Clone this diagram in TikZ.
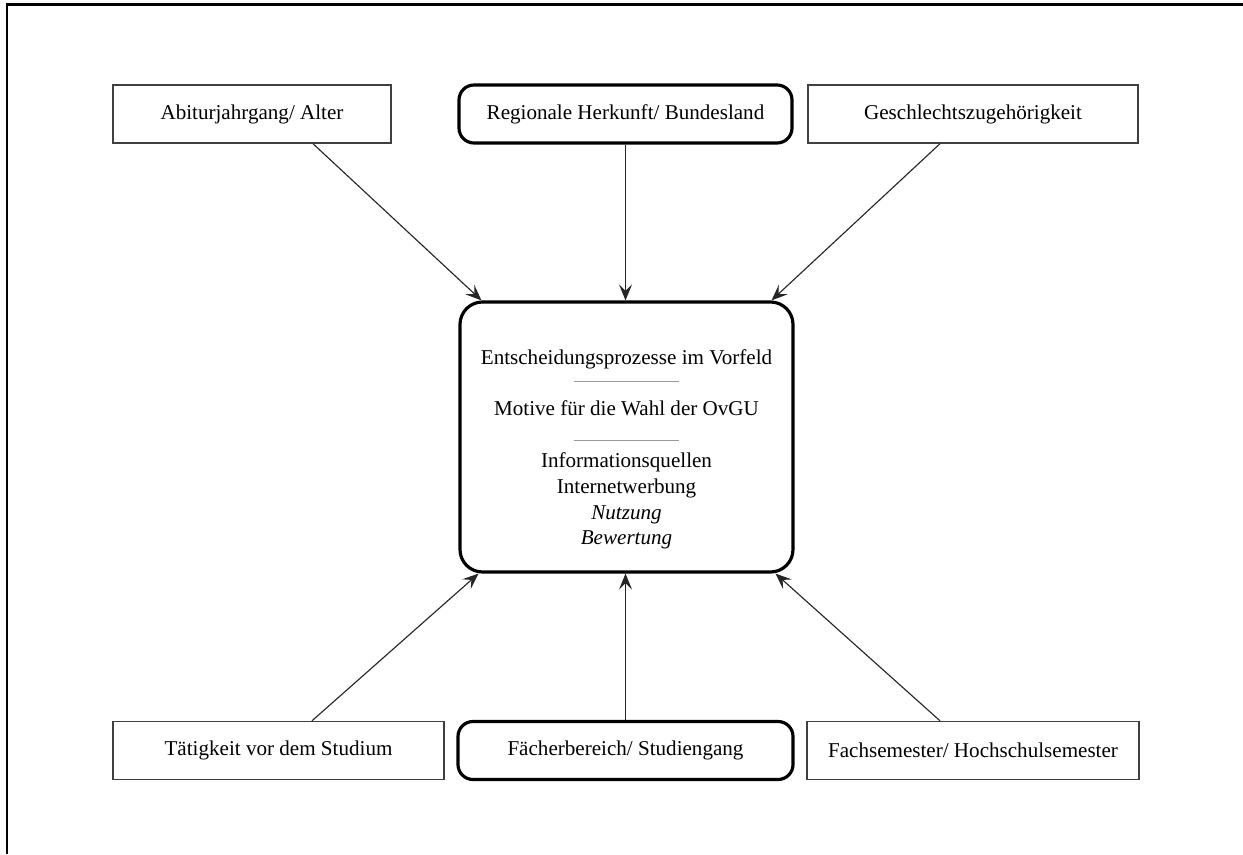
\documentclass[tikz,border=0pt]{standalone}
\usepackage{fontspec}
\setmainfont{Liberation Serif}
\usetikzlibrary{arrows.meta, positioning, calc}

\begin{document}
\begin{tikzpicture}[every node/.style={font=\fontsize{12}{14.7}\selectfont},
  factor/.style={draw=black!75, line width=0.8pt, minimum height=1.16cm, inner sep=0pt},
  keyfactor/.style={draw=black, line width=1.8pt, rounded corners=0.3cm, minimum height=1.16cm, inner sep=0pt},
  hub/.style={draw=black, line width=1.8pt, rounded corners=0.45cm, minimum width=6.66cm, minimum height=5.4cm},
  link/.style={-{Stealth[length=3.2mm, width=2.6mm, inset=1.3mm]}, black!85, line width=0.65pt}]
\useasboundingbox (0,0) rectangle (24.86,17.08);
% frame
\draw[line width=1.6pt] (0.14,0) -- (0.14,16.99) -- (24.86,16.99);
% upper factors
\node[factor, minimum width=5.56cm] (abitur) at (5.04,14.8) {Abiturjahrgang/ Alter};
\node[keyfactor, minimum width=6.66cm] (herkunft) at (12.51,14.8) {Regionale Herkunft/ Bundesland};
\node[factor, minimum width=6.6cm] (geschlecht) at (19.46,14.8) {Geschlechtszugehörigkeit};
% central topics
\node[hub] (ctr) at (12.53,8.34) {};
\node[anchor=north, align=center, inner sep=0pt] (inhalt) at ([yshift=-0.97cm]ctr.north) {
  Entscheidungsprozesse im Vorfeld\\
  \raisebox{4.5pt}{\textcolor{black!40}{\rule{2.1cm}{0.6pt}}}\\
  Motive für die Wahl der OvGU\\
  \raisebox{0.5pt}{\textcolor{black!40}{\rule{2.1cm}{0.6pt}}}\\
  Informationsquellen\\
  Internetwerbung\\
  \textit{Nutzung}\\
  \textit{Bewertung}
};
% lower factors
\node[factor, minimum width=6.62cm] (taetigkeit) at (5.57,2.07) {Tätigkeit vor dem Studium};
\node[keyfactor, minimum width=6.7cm] (faecher) at (12.51,2.07) {Fächerbereich/ Studiengang};
\node[factor, minimum width=6.64cm] (semester) at (19.46,2.07) {Fachsemester/ Hochschulsemester};
% arrows into the centre
\draw[link] ([xshift=1.22cm]abitur.south) -- ([xshift=-2.9cm]ctr.north);
\draw[link] (herkunft.south) -- (herkunft.south |- ctr.north);
\draw[link] ([xshift=-0.66cm]geschlecht.south) -- ([xshift=2.9cm]ctr.north);
\draw[link] ([xshift=0.67cm]taetigkeit.north) -- ([xshift=-2.96cm]ctr.south);
\draw[link] (faecher.north) -- (faecher.north |- ctr.south);
\draw[link] ([xshift=-0.66cm]semester.north) -- ([xshift=2.98cm]ctr.south);
\end{tikzpicture}
\end{document}
